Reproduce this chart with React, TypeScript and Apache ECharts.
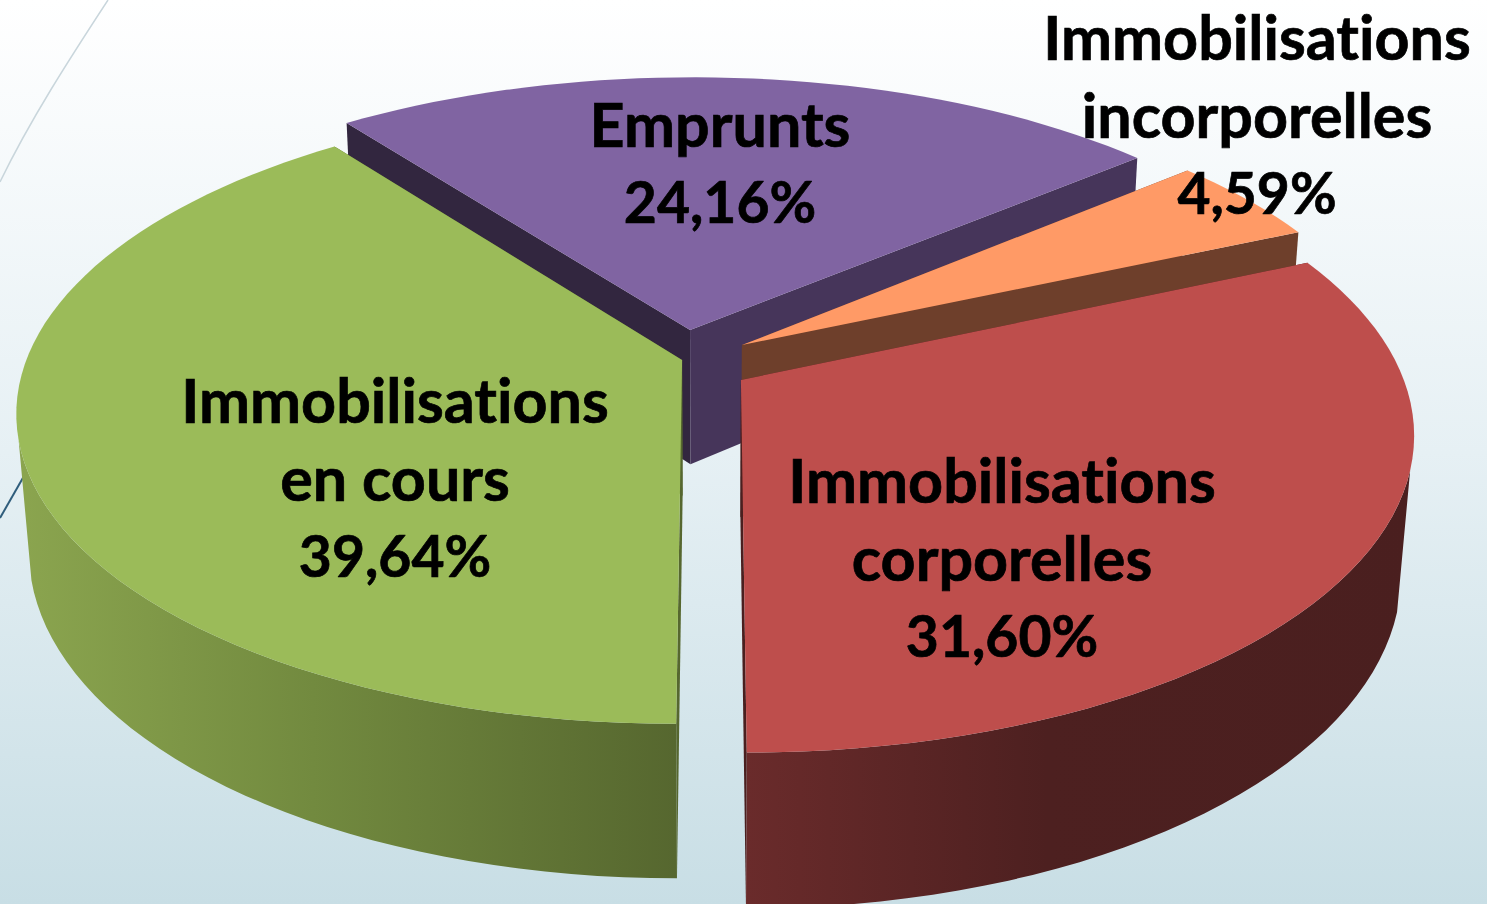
import React, { useEffect, useRef } from "react";
import * as echarts from "echarts";

// Data, in the chart's own clockwise order
const categories = [
  "Immobilisations\nincorporelles",
  "Immobilisations\ncorporelles",
  "Immobilisations\nen cours",
  "Emprunts",
];
const shares = [4.59, 31.6, 39.64, 24.16];
const shareLabels = ["4,59%", "31,60%", "39,64%", "24,16%"];

// Painter's order: back slices first
const drawOrder = [3, 0, 2, 1];
const firstSliceAngle = 319.7;

// Perspective of the disc
const W = 1487;
const H = 904;
const cx = 712;
const cy = 355;
const fx = 654;
const fy = 302;
const persp = 0.165;
const depthY = 138;
const depthQ = 0.018;
const silhouetteSin = 0.25;
const labelLineHeight = 78;

// Layout of each slice (same order as categories): explosion offset, colours, label centre
const sliceStyles = [
  { u0: 0.046, v0: -0.033, top: "#FF9A66", rim: ["#6E3F2B", "#6E3F2B", "#6E3F2B"], cutStart: "#6E3F2B", cutEnd: "#6E3F2B", lx: 1257, ly: 114 },
  { u0: 0.0436, v0: 0.0816, top: "#BE4E4C", rim: ["#6A2B2B", "#4D2020", "#4A1F1F"], cutStart: "#4A1F1F", cutEnd: "#4A1F1F", lx: 1002, ly: 557 },
  { u0: -0.0456, v0: 0.0165, top: "#9BBB59", rim: ["#8BA54F", "#728A3F", "#56672F"], cutStart: "#56672F", cutEnd: "#56672F", lx: 395, ly: 477 },
  { u0: -0.034, v0: -0.084, top: "#8064A2", rim: ["#46355A", "#46355A", "#46355A"], cutStart: "#32263F", cutEnd: "#46355A", lx: 720, ly: 162 },
];

const rad = (d: number) => (d * Math.PI) / 180;

function project(u: number, v: number, z: number): [number, number] {
  const d = 1 - persp * v + depthQ * z;
  return [cx + (fx * u) / d, cy + (fy * v + depthY * z) / d];
}

function sliceAngles(index: number): [number, number] {
  const total = shares.reduce((a, b) => a + b, 0);
  let start = firstSliceAngle;
  for (let i = 0; i < index; i++) start += (shares[i] / total) * 360;
  return [start, start + (shares[index] / total) * 360];
}

function arcAngles(a0: number, a1: number) {
  const steps = Math.max(4, Math.ceil((a1 - a0) / 2));
  const list: number[] = [];
  for (let k = 0; k <= steps; k++) list.push(a0 + ((a1 - a0) * k) / steps);
  return list;
}

function renderSlice(_params: any, api: any) {
  const index = api.value(0) as number;
  const s = sliceStyles[index];
  const [a0, a1] = sliceAngles(index);
  const apexTop = project(s.u0, s.v0, 0);
  const apexBottom = project(s.u0, s.v0, 1);
  const angles = arcAngles(a0, a1);
  const at = (a: number, z: number) => project(s.u0 + Math.cos(rad(a)), s.v0 + Math.sin(rad(a)), z);
  const topArc = angles.map((a) => at(a, 0));
  const xs = topArc.map((p) => p[0]);
  const rimFill = new echarts.graphic.LinearGradient(
    Math.min(...xs), 0, Math.max(...xs), 0,
    [
      { offset: 0, color: s.rim[0] },
      { offset: 0.45, color: s.rim[1] },
      { offset: 1, color: s.rim[2] },
    ],
    true
  );
  const children: any[] = [];
  children.push({
    type: "polygon",
    shape: { points: [apexTop, at(a0, 0), at(a0, 1), apexBottom] },
    style: { fill: s.cutStart },
  });
  children.push({
    type: "polygon",
    shape: { points: [apexTop, at(a1, 0), at(a1, 1), apexBottom] },
    style: { fill: s.cutEnd },
  });
  // outer wall: only the part of the arc that faces the viewer
  const front = angles.filter((a) => Math.sin(rad(a)) >= silhouetteSin);
  if (front.length > 1) {
    children.push({
      type: "polygon",
      shape: { points: [...front.map((a) => at(a, 0)), ...front.slice().reverse().map((a) => at(a, 1))] },
      style: { fill: rimFill },
    });
  }
  children.push({
    type: "polygon",
    shape: { points: [apexTop, ...topArc] },
    style: { fill: s.top },
  });
  const lines = [...categories[index].split("\n"), shareLabels[index]];
  lines.forEach((line, k) => {
    children.push({
      type: "text",
      x: s.lx,
      y: s.ly + (k - (lines.length - 1) / 2) * labelLineHeight,
      style: {
        text: line,
        fill: "#000000",
        stroke: "#000000",
        lineWidth: 0.7,
        fontFamily: "Lato",
        fontWeight: "bold",
        fontSize: k === lines.length - 1 ? 57 : 61,
        align: "center",
        verticalAlign: "middle",
      },
    });
  });
  return { type: "group", children };
}

export default function App() {
  const ref = useRef<HTMLDivElement>(null);
  useEffect(() => {
    document.body.style.margin = "0";
    const chart = echarts.init(ref.current!, undefined, { renderer: "svg" });
    chart.setOption({
      animation: false,
      backgroundColor: new echarts.graphic.LinearGradient(0, 0, 0, 1, [
        { offset: 0, color: "#FFFFFF" },
        { offset: 0.5, color: "#E6F0F4" },
        { offset: 1, color: "#C8DEE5" },
      ]),
      graphic: [
        {
          type: "bezierCurve",
          z: 0,
          shape: { x1: 108, y1: 0, cpx1: 70, cpy1: 58, cpx2: 30, cpy2: 120, x2: 0, y2: 182 },
          style: { stroke: "#C9D6DC", lineWidth: 1.5, fill: "none" },
        },
        {
          type: "line",
          z: 0,
          shape: { x1: 24, y1: 476, x2: 0, y2: 518 },
          style: { stroke: "#2F5D7C", lineWidth: 2 },
        },
      ],
      series: [
        {
          type: "custom",
          coordinateSystem: "none",
          renderItem: renderSlice,
          clip: false,
          silent: true,
          data: drawOrder.map((i) => [i, shares[i]]),
        },
      ],
    });
    return () => chart.dispose();
  }, []);
  return <div ref={ref} style={{ width: W, height: H, overflow: "hidden", fontVariantLigatures: "none" }} />;
}
